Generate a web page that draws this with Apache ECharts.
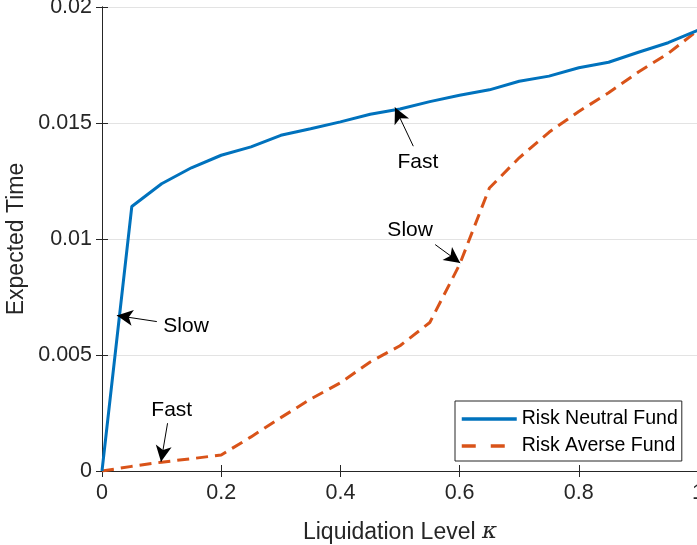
<!DOCTYPE html>
<html>
<head>
<meta charset="utf-8">
<script src="https://cdn.jsdelivr.net/npm/echarts@6/dist/echarts.min.js"></script>
<style>
html,body{margin:0;padding:0;background:#fff;}
#chart{width:697px;height:545px;}
</style>
</head>
<body>
<div id="chart"></div>
<script>
// ---- data ----
var kappa = [0,0.05,0.1,0.15,0.2,0.25,0.3,0.35,0.4,0.45,0.5,0.55,0.6,0.65,0.7,0.75,0.8,0.85,0.9,0.95,1];
var riskNeutral = [0,0.0114,0.01238,0.01307,0.01361,0.01397,0.01447,0.01475,0.01505,0.01538,0.01560,0.01592,0.01620,0.01643,0.01680,0.01702,0.01738,0.01762,0.01805,0.01846,0.01900];
var riskAverse = [0,0.0002,0.00038,0.00053,0.00069,0.00147,0.0023,0.0031,0.0038,0.0047,0.0054,0.0064,0.0089,0.0122,0.0135,0.0146,0.0155,0.0163,0.0172,0.0180,0.0190];
var seriesNames = ['Risk Neutral Fund','Risk Averse Fund'];
var xTicks = [0,0.2,0.4,0.6,0.8,1];
var yTicks = [0,0.005,0.01,0.015,0.02];
// annotations: [label, textX, textY, tailX, tailY, headX, headY]
var annotations = [
  ['Slow', 0.141, 0.00622, 0.092, 0.00644, 0.025, 0.0067],
  ['Fast', 0.117, 0.00263, 0.110, 0.00206, 0.099, 0.00040],
  ['Fast', 0.530, 0.01330, 0.5223, 0.0140, 0.4916, 0.01567],
  ['Slow', 0.517, 0.01037, 0.559, 0.00976, 0.601, 0.00897]
];

var FONT = 'Liberation Sans, Arial, Helvetica, sans-serif';
var AX = '#262626';

function pairs(xs, ys){ return xs.map(function(x,i){return [x, ys[i]];}); }

var chart = echarts.init(document.getElementById('chart'), null, {renderer:'canvas'});

var yLabelMap = {};
yTicks.forEach(function(v){ yLabelMap[v.toFixed(3)] = String(v); });

var option = {
  animation:false,
  backgroundColor:'#fff',
  textStyle:{fontFamily:FONT},
  grid:{left:102, top:7, width:596, height:464, containLabel:false, outerBoundsMode:'none'},
  xAxis:[{
    type:'value', min:0, max:1, interval:0.2, position:'bottom',
    name:'Liquidation Level {k|κ}', nameLocation:'middle', nameGap:50,
    nameTextStyle:{fontSize:23, color:AX, fontFamily:FONT,
      rich:{k:{fontSize:23, fontStyle:'italic', fontFamily:'DejaVu Serif, serif', color:AX}}},
    axisLine:{show:true, lineStyle:{color:AX, width:1}},
    axisTick:{show:true, inside:true, length:6, lineStyle:{color:AX}},
    axisLabel:{fontSize:21.5, color:AX, margin:11, fontFamily:FONT,
      formatter:function(v){ return String(+v.toFixed(1)); }},
    splitLine:{show:false}
  },{
    type:'value', min:0, max:1, interval:0.2, position:'top',
    axisLine:{show:true, lineStyle:{color:AX, width:1}},
    axisTick:{show:true, inside:true, length:6, lineStyle:{color:AX}},
    axisLabel:{show:false}, splitLine:{show:false}
  }],
  yAxis:[{
    type:'value', min:0, max:0.02, interval:0.005, position:'left',
    name:'Expected Time', nameLocation:'middle', nameGap:74, nameMoveOverlap:false,
    nameTextStyle:{fontSize:23, color:AX, fontFamily:FONT},
    axisLine:{show:true, lineStyle:{color:AX, width:1}},
    axisTick:{show:true, inside:true, length:6, lineStyle:{color:AX}},
    axisLabel:{fontSize:21.5, color:AX, margin:10, fontFamily:FONT,
      formatter:function(v){ return yLabelMap[v.toFixed(3)] || String(v); }},
    splitLine:{show:true, lineStyle:{color:'#e3e3e3', width:1}}
  },{
    type:'value', min:0, max:0.02, interval:0.005, position:'right',
    axisLine:{show:true, lineStyle:{color:AX, width:1}},
    axisTick:{show:true, inside:true, length:6, lineStyle:{color:AX}},
    axisLabel:{show:false}, splitLine:{show:false}
  }],
  legend:{
    orient:'vertical', left:455, top:401,
    padding:[8,4,5,5], itemGap:7, itemWidth:55, itemHeight:14,
    borderColor:AX, borderWidth:1, backgroundColor:'#fff',
    textStyle:{fontSize:19.5, color:'#000', fontFamily:FONT},
    itemStyle:{opacity:0},
    data:[{name:seriesNames[0], lineStyle:{width:3.5}},
          {name:seriesNames[1], lineStyle:{width:3.5, type:[14,15]}}]
  },
  series:[{
    name:seriesNames[0], type:'line', data:pairs(kappa, riskNeutral),
    showSymbol:false, symbol:'none', z:3,
    lineStyle:{color:'#0072BD', width:3}, itemStyle:{color:'#0072BD'},
    markLine:{
      silent:true, symbol:['none','arrow'], symbolSize:[12,16], precision:6,
      lineStyle:{color:'#000', width:1, type:'solid'}, label:{show:false},
      data:annotations.map(function(a){ return [{coord:[a[3],a[4]]},{coord:[a[5],a[6]]}]; })
    },
    markPoint:{
      silent:true, symbol:'circle', symbolSize:0,
      label:{show:true, position:'inside', color:'#000', fontSize:21, fontFamily:FONT,
        formatter:function(p){ return p.name; }},
      data:annotations.map(function(a){ return {name:a[0], coord:[a[1],a[2]]}; })
    }
  },{
    name:seriesNames[1], type:'line', data:pairs(kappa, riskAverse),
    showSymbol:false, symbol:'none', z:2,
    lineStyle:{color:'#D95319', width:3, type:[12,7]}, itemStyle:{color:'#D95319'}
  }]
};
chart.setOption(option);
</script>
</body>
</html>
